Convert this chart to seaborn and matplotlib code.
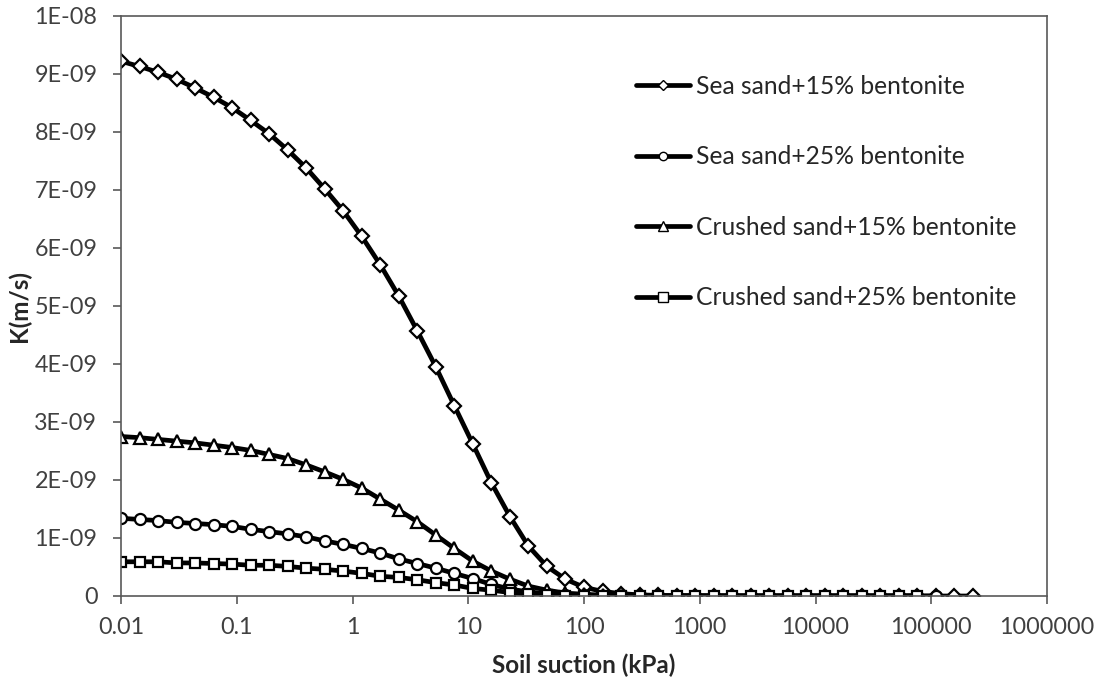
import numpy as np
import pandas as pd
import matplotlib
matplotlib.use("Agg")
import matplotlib.pyplot as plt
from matplotlib.lines import Line2D
import seaborn as sns

# Soil suction (kPa), log-spaced sampling points
suction = [0.01, 0.01445, 0.02089, 0.0302, 0.04365, 0.0631, 0.0912, 0.1318,
           0.1905, 0.2754, 0.398, 0.575, 0.832, 1.202, 1.738, 2.512, 3.631,
           5.248, 7.586, 10.96, 15.85, 22.91, 33.11, 47.86, 69.18, 100.0,
           144.5, 208.9, 302.0, 436.5, 631.0, 912.0, 1318.0, 1905.0, 2754.0,
           3981.0, 5754.0, 8318.0, 12023.0, 17378.0, 25119.0, 36308.0,
           52481.0, 75858.0, 109648.0, 158489.0, 229087.0]

# Hydraulic conductivity K (x 1e-9 m/s)
k_sea15 = [9.22, 9.13, 9.03, 8.91, 8.76, 8.60, 8.42, 8.20, 7.97, 7.69, 7.38,
           7.02, 6.64, 6.20, 5.71, 5.17, 4.57, 3.95, 3.28, 2.62, 1.95, 1.37,
           0.86, 0.51, 0.29, 0.15, 0.08, 0.04, 0.02, 0.01, 0.006, 0.004,
           0.003, 0.002, 0.001, 0.001, 0.001, 0.0, 0.0, 0.0, 0.0, 0.0, 0.0,
           0.0, 0.0, 0.0, 0.0]
k_sea25 = [1.34, 1.32, 1.30, 1.27, 1.25, 1.23, 1.20, 1.15, 1.11, 1.07, 1.02,
           0.95, 0.89, 0.82, 0.74, 0.64, 0.56, 0.48, 0.39, 0.30, 0.20, 0.12,
           0.07, 0.04, 0.02, 0.01, 0.006, 0.004, 0.002, 0.001, 0.001, 0.0,
           0.0, 0.0, 0.0, 0.0, 0.0, 0.0, 0.0, 0.0, 0.0, 0.0, 0.0, 0.0, 0.0]
k_crushed15 = [2.75, 2.73, 2.70, 2.67, 2.64, 2.60, 2.56, 2.51, 2.44, 2.37,
               2.26, 2.14, 2.01, 1.86, 1.67, 1.48, 1.28, 1.05, 0.82, 0.60,
               0.43, 0.29, 0.17, 0.10, 0.05, 0.03, 0.015, 0.008, 0.004,
               0.002, 0.001, 0.001, 0.0, 0.0, 0.0, 0.0, 0.0, 0.0, 0.0, 0.0,
               0.0, 0.0, 0.0, 0.0]
k_crushed25 = [0.59, 0.59, 0.59, 0.57, 0.57, 0.56, 0.55, 0.53, 0.53, 0.51,
               0.48, 0.46, 0.43, 0.39, 0.34, 0.32, 0.28, 0.23, 0.19, 0.13,
               0.10, 0.06, 0.03, 0.015, 0.008, 0.004, 0.002, 0.001, 0.001,
               0.0, 0.0, 0.0, 0.0, 0.0, 0.0, 0.0, 0.0, 0.0, 0.0, 0.0, 0.0,
               0.0, 0.0, 0.0]

series_names = ["Sea sand+15% bentonite", "Sea sand+25% bentonite",
                "Crushed sand+15% bentonite", "Crushed sand+25% bentonite"]
series_values = [k_sea15, k_sea25, k_crushed15, k_crushed25]

x_ticks = [0.01, 0.1, 1, 10, 100, 1000, 10000, 100000, 1000000]
x_tick_labels = ["0.01", "0.1", "1", "10", "100", "1000", "10000", "100000",
                 "1000000"]
y_ticks = [i * 1e-9 for i in range(11)]
y_tick_labels = ["0", "1E-09", "2E-09", "3E-09", "4E-09", "5E-09", "6E-09",
                 "7E-09", "8E-09", "9E-09", "1E-08"]

sns.set_theme(style="white")
plt.rcParams["font.family"] = ["Lato", "DejaVu Sans"]

fig = plt.figure(figsize=(11.06, 6.84), dpi=100)
ax = fig.add_axes([121 / 1106, 88 / 684, 926 / 1106, 580 / 684])

# (marker, size on curve, size in legend)
marker_styles = [("D", 7, 5), ("o", 8, 6), ("^", 8.5, 7.5), ("s", 7.5, 7)]

frames = []
for name, vals in zip(series_names, series_values):
    n = len(vals)
    frames.append(pd.DataFrame({
        "suction": suction[:n],
        "K": np.array(vals) * 1e-9,
        "series": name,
    }))
data = pd.concat(frames, ignore_index=True)

handles = []
for name, (mk, ms, lms) in zip(series_names, marker_styles):
    sub = data[data["series"] == name]
    sns.lineplot(data=sub, x="suction", y="K", ax=ax, color="black",
                 linewidth=3.4, marker=mk, markersize=ms,
                 markerfacecolor="white", markeredgecolor="black",
                 markeredgewidth=1.6, sort=False, estimator=None,
                 legend=False)
    handles.append(Line2D([], [], color="black", linewidth=3.4, marker=mk,
                          markersize=lms, markerfacecolor="white",
                          markeredgecolor="black", markeredgewidth=1.0))

ax.set_xscale("log")
ax.set_xlim(0.01, 1000000)
ax.set_ylim(0, 1e-8)
ax.set_xticks(x_ticks)
ax.set_xticklabels(x_tick_labels)
ax.set_yticks(y_ticks)
ax.set_yticklabels(y_tick_labels)
ax.xaxis.set_minor_locator(matplotlib.ticker.NullLocator())

spine_color = "#595959"
for sp in ax.spines.values():
    sp.set_visible(True)
    sp.set_color(spine_color)
    sp.set_linewidth(1.2)

ax.tick_params(axis="both", which="major", direction="out", length=6,
               width=1.2, color=spine_color, labelsize=16.8,
               labelcolor="#404040", left=True, bottom=True)
ax.tick_params(axis="y", pad=11)
ax.tick_params(axis="x", pad=9)

ax.set_xlabel("Soil suction (kPa)", fontsize=17.5, fontweight="bold",
              color="#262626", labelpad=11)
ax.set_ylabel("K(m/s)", fontsize=17.5, fontweight="bold", color="#262626",
              labelpad=2)

ax.legend(handles, series_names, loc="upper left",
          bbox_to_anchor=(636 / 1106, 1 - 75 / 684),
          bbox_transform=fig.transFigure, frameon=False, fontsize=17.7,
          handlelength=2.2, handletextpad=0.24, labelspacing=1.93,
          borderpad=0, borderaxespad=0, labelcolor="#262626")

fig.savefig("out.png", dpi=100, facecolor="white")
